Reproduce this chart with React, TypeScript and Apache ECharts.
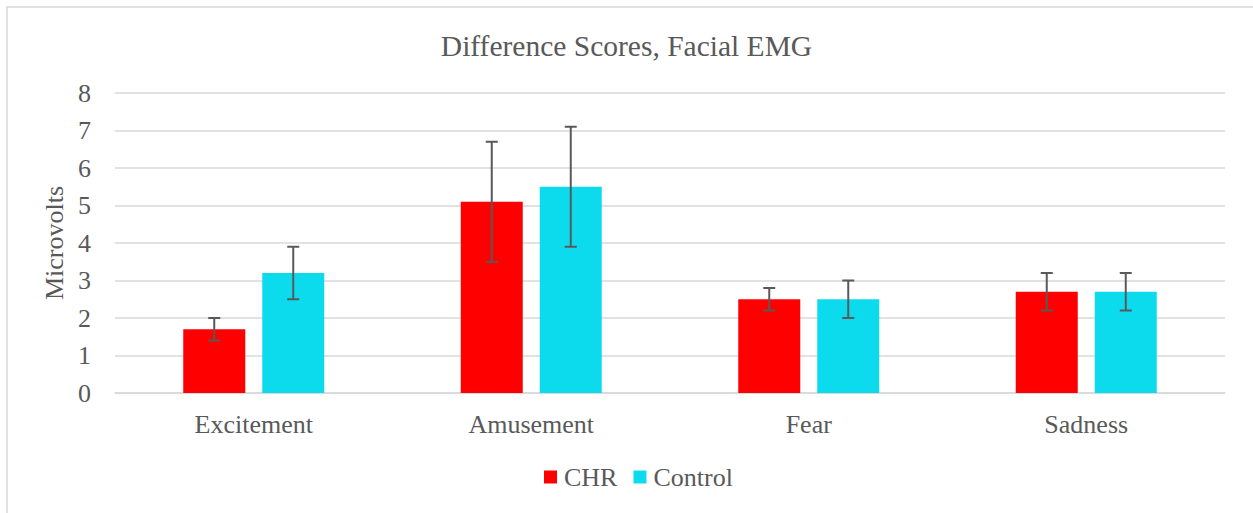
import React, { useEffect, useRef } from "react";
import * as echarts from "echarts";

const categories = ["Excitement", "Amusement", "Fear", "Sadness"];
const chrValues = [1.7, 5.1, 2.5, 2.7];
const controlValues = [3.2, 5.5, 2.5, 2.7];
const chrLow = [1.4, 3.5, 2.2, 2.2];
const chrHigh = [2.0, 6.7, 2.8, 3.2];
const controlLow = [2.5, 3.9, 2.0, 2.2];
const controlHigh = [3.9, 7.1, 3.0, 3.2];
const yTicks = [0, 8, 1]; // min, max, interval

const FONT = "Liberation Serif";
const TEXT = "#595959";
const GRID = "#d9d9d9";
const BAR_W = 62;
const BAR_GAP = 17;

function errorSeries(name: string, low: number[], high: number[], sign: number) {
  return {
    type: "custom",
    name: name + "-err",
    z: 10,
    data: categories.map((_, i) => [i, low[i], high[i]]),
    encode: { x: 0, y: [1, 2] },
    renderItem: (params: any, api: any) => {
      const idx = api.value(0);
      const lo = api.coord([idx, api.value(1)]);
      const hi = api.coord([idx, api.value(2)]);
      const x = lo[0] + sign * (BAR_W + BAR_GAP) / 2;
      const cap = 6;
      const style = { stroke: TEXT, lineWidth: 2 };
      return {
        type: "group",
        children: [
          { type: "line", shape: { x1: x, y1: lo[1], x2: x, y2: hi[1] }, style },
          { type: "line", shape: { x1: x - cap, y1: lo[1], x2: x + cap, y2: lo[1] }, style },
          { type: "line", shape: { x1: x - cap, y1: hi[1], x2: x + cap, y2: hi[1] }, style },
        ],
      };
    },
  };
}

export default function App() {
  const ref = useRef<HTMLDivElement>(null);
  useEffect(() => {
    document.body.style.margin = "0";
    const chart = echarts.init(ref.current!, undefined, { renderer: "svg" });
    chart.setOption({
      animation: false,
      backgroundColor: "#ffffff",
      textStyle: { fontFamily: FONT },
      title: {
        text: "Difference Scores, Facial EMG",
        left: "center",
        top: 26,
        textStyle: { fontFamily: FONT, fontSize: 29.5, fontWeight: "normal", color: TEXT },
      },
      legend: {
        data: ["CHR", "Control"],
        left: 539,
        top: 459,
        itemWidth: 13,
        itemHeight: 13,
        itemGap: 16,
        icon: "rect",
        textStyle: { fontFamily: FONT, fontSize: 26, color: TEXT, padding: [0, 0, 0, 2] },
      },
      graphic: [
        {
          type: "rect",
          shape: { x: 7, y: 7, width: 1300, height: 600 },
          style: { fill: "none", stroke: GRID, lineWidth: 1.5 },
          silent: true,
        },
      ],
      grid: { left: 115, right: 28, top: 93, bottom: 120 },
      xAxis: {
        type: "category",
        data: categories,
        axisLine: { lineStyle: { color: GRID, width: 1.5 } },
        axisTick: { show: false },
        axisLabel: { fontFamily: FONT, fontSize: 26, color: TEXT, margin: 18 },
      },
      yAxis: {
        type: "value",
        min: yTicks[0],
        max: yTicks[1],
        interval: yTicks[2],
        name: "Microvolts",
        nameLocation: "middle",
        nameGap: 44,
        nameTextStyle: { fontFamily: FONT, fontSize: 26, color: TEXT },
        axisLine: { show: false },
        axisTick: { show: false },
        axisLabel: { fontFamily: FONT, fontSize: 26, color: TEXT, margin: 24 },
        splitLine: { lineStyle: { color: GRID, width: 1.5 } },
      },
      series: [
        {
          type: "bar",
          name: "CHR",
          data: chrValues,
          barWidth: BAR_W,
          barGap: (BAR_GAP / BAR_W) * 100 + "%",
          itemStyle: { color: "#ff0000" },
        },
        {
          type: "bar",
          name: "Control",
          data: controlValues,
          barWidth: BAR_W,
          itemStyle: { color: "#0cdbed" },
        },
        errorSeries("CHR", chrLow, chrHigh, -1),
        errorSeries("Control", controlLow, controlHigh, 1),
      ],
    });
    return () => chart.dispose();
  }, []);
  return <div ref={ref} style={{ width: 1253, height: 513 }} />;
}
